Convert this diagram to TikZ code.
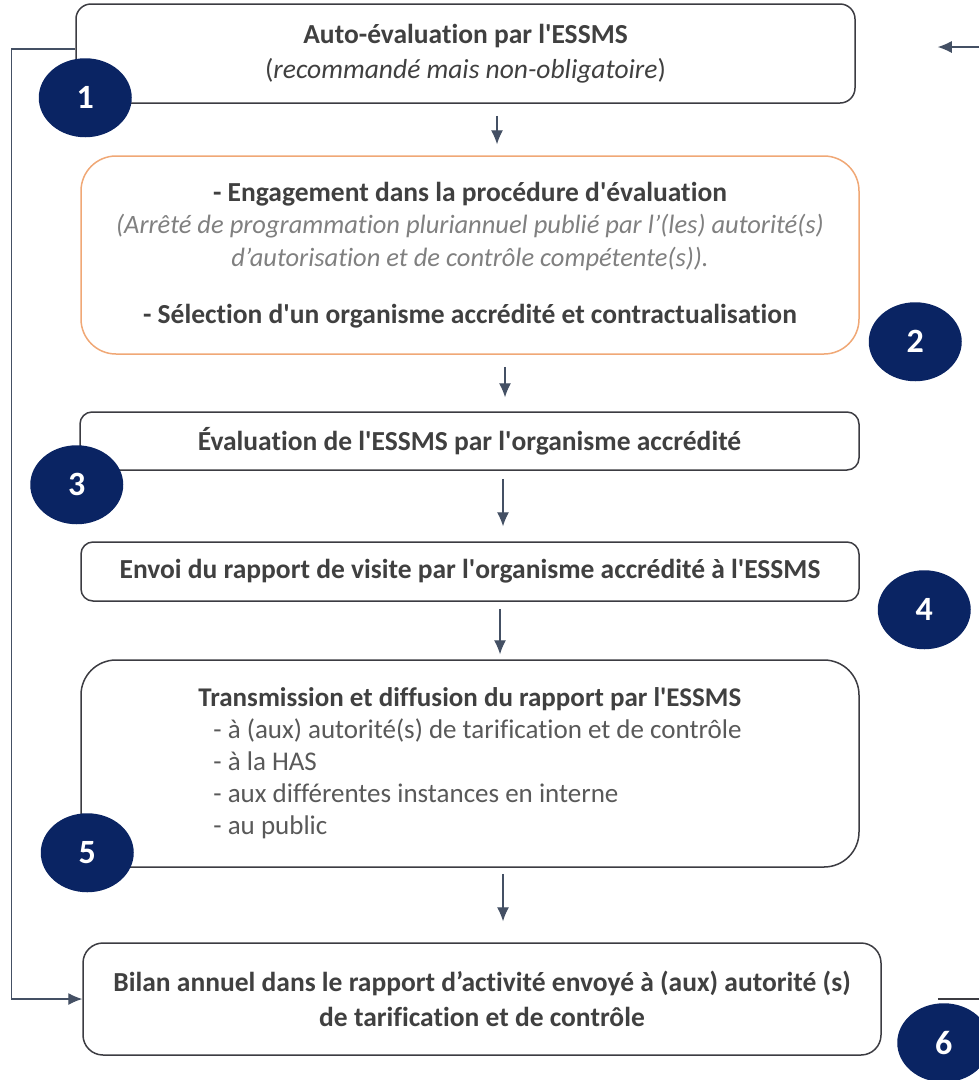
\documentclass[tikz,border=0pt]{standalone}
\usepackage{fontspec}
\setmainfont[Ligatures={TeX,NoCommon}]{Carlito}
\usetikzlibrary{shapes,arrows.meta}
\definecolor{navy}{RGB}{10,36,99}
\definecolor{txtgray}{RGB}{64,64,64}
\definecolor{subgray}{RGB}{128,128,128}
\definecolor{listgray}{RGB}{89,89,89}
\definecolor{boxgray}{RGB}{60,60,66}
\definecolor{arrowgray}{RGB}{68,80,100}
\definecolor{orangeborder}{RGB}{240,168,118}
\tikzstyle{line} = [draw, color=arrowgray, line width=1.1pt, -{Latex[length=14pt, width=12pt]}]
\tikzstyle{retour} = [draw, color=boxgray, line width=1.1pt]
\tikzstyle{etape} = [rectangle, draw=boxgray, line width=1.5pt, fill=white, text=txtgray, align=center, inner sep=0pt, node distance=200pt, font=\fontsize{27.5}{35}\selectfont\bfseries]
\tikzstyle{numero} = [ellipse, fill=navy, text=white, minimum width=93pt, minimum height=79pt, inner sep=0pt, font=\fontsize{34}{34}\selectfont\bfseries]

\begin{document}
\begin{tikzpicture}
	\useasboundingbox (0,0) rectangle (979pt,-1080pt);
	\node [etape, rounded corners=15pt, minimum width=779pt, minimum height=99pt] (autoeval) at (465.5pt,-53.5pt) {Auto-évaluation par l\textquotesingle ESSMS\\ {\mdseries (\textit{recommandé mais non-obligatoire})}};
	
	\node [etape, draw=orangeborder, rounded corners=35pt, minimum width=778pt, minimum height=198pt, below of=autoeval, xshift=4.5pt, node distance=201.5pt, font=\fontsize{27.5}{32.5}\selectfont\bfseries] (engagement) {- Engagement dans la procédure d\textquotesingle évaluation\\ {\fontsize{26.5}{32.5}\selectfont\mdseries\itshape\color{subgray}(Arrêté de programmation pluriannuel publié par l’(les) autorité(s)}\\ {\fontsize{26.5}{32.5}\selectfont\mdseries\itshape\color{subgray}d’autorisation et de contrôle compétente(s)).}\\[25pt] - Sélection d\textquotesingle un organisme accrédité et contractualisation};
	
	\node [etape, rounded corners=12pt, minimum width=779pt, minimum height=58pt, below of=engagement, xshift=-0.5pt, node distance=186pt] (evaluation) {Évaluation de l\textquotesingle ESSMS par l\textquotesingle organisme accrédité};
	
	\node [etape, rounded corners=12pt, minimum width=778pt, minimum height=59pt, below of=evaluation, xshift=0.5pt, node distance=130.5pt] (envoi) {Envoi du rapport de visite par l\textquotesingle organisme accrédité à l\textquotesingle ESSMS};
	
	\node [etape, rounded corners=35pt, minimum width=778pt, minimum height=207pt, align=left, below of=envoi, node distance=192pt, font=\fontsize{27}{32}\selectfont\bfseries] (diffusion) {Transmission et diffusion du rapport par l\textquotesingle ESSMS\\ {\mdseries\color{listgray}\hspace*{15pt}- à (aux) autorité(s) de tarification et de contrôle}\\ {\mdseries\color{listgray}\hspace*{15pt}- à la HAS}\\ {\mdseries\color{listgray}\hspace*{15pt}- aux différentes instances en interne}\\ {\mdseries\color{listgray}\hspace*{15pt}- au public}};
	
	\node [etape, rounded corners=20pt, minimum width=798pt, minimum height=112pt, below of=diffusion, xshift=12pt, node distance=235.5pt] (bilan) {Bilan annuel dans le rapport d’activité envoyé à (aux) autorité (s)\\ de tarification et de contrôle};
	
	\node [numero] (num1) at ([xshift=10pt, yshift=6pt]autoeval.south west) {1};
	\node [numero] (num2) at ([xshift=55.5pt, yshift=13pt]engagement.south east) {2};
	\node [numero] (num3) at ([xshift=-2.5pt, yshift=-14pt]evaluation.south west) {3};
	\node [numero] (num4) at ([xshift=64.5pt, yshift=-8pt]envoi.south east) {4};
	\node [numero] (num5) at ([xshift=7pt, yshift=15pt]diffusion.south west) {5};
	\node [numero] (num6) at ([xshift=62pt, yshift=13pt]bilan.south east) {6};
	
	\path [line, shorten <=12pt, shorten >=11pt] ([xshift=31.5pt]autoeval.south) to ([xshift=27pt]engagement.north);
	\path [line, shorten <=12pt, shorten >=14pt] ([xshift=35pt]engagement.south) to ([xshift=35.5pt]evaluation.north);
	\path [line, shorten <=8pt, shorten >=15pt] ([xshift=33.5pt]evaluation.south) to ([xshift=33pt]envoi.north);
	\path [line, shorten <=7pt, shorten >=5pt] ([xshift=30pt]envoi.south) to ([xshift=30pt]diffusion.north);
	\path [line, shorten <=6pt, shorten >=21pt] ([xshift=33pt]diffusion.south) to ([xshift=21pt]bilan.north);
	
	\path [line] ([yshift=4.5pt]autoeval.west) -- ++(-64pt,0) |- (bilan.west);
	
	\coordinate (retourhaut) at ([xshift=124pt, yshift=6.5pt]autoeval.east);
	\path [line] (retourhaut) to ([xshift=82pt, yshift=6.5pt]autoeval.east);
	\coordinate (retourbas) at ([xshift=98pt]bilan.east);
	\path [retour] ([xshift=56pt]bilan.east) to (retourbas);
	
\end{tikzpicture}
\end{document}
